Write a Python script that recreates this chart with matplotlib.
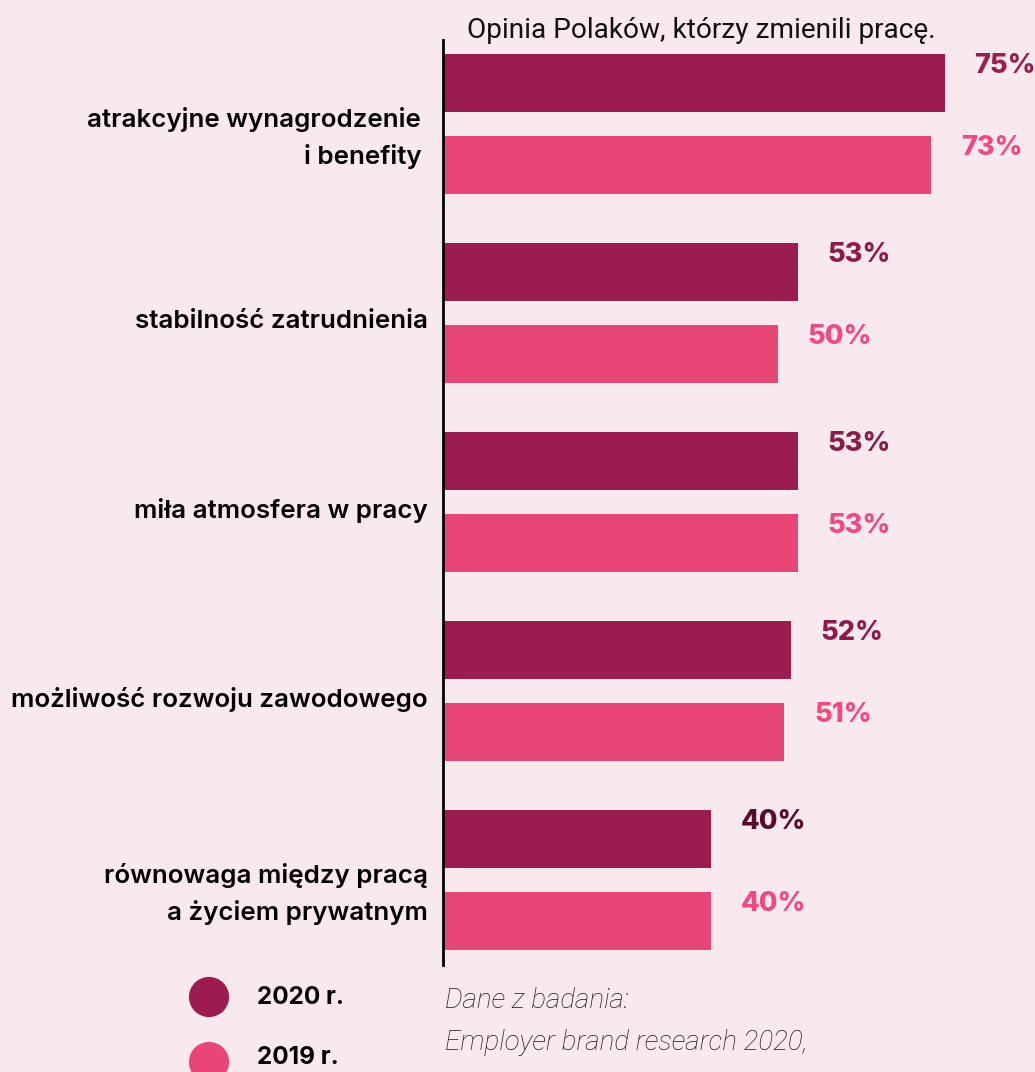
import numpy as np
import matplotlib.pyplot as plt

# data
categories = ['atrakcyjne wynagrodzenie \ni benefity ',
              'stabilność zatrudnienia',
              'miła atmosfera w pracy',
              'możliwość rozwoju zawodowego',
              'równowaga między pracą\na życiem prywatnym']
values_2020 = [75, 53, 53, 52, 40]
values_2019 = [73, 50, 53, 51, 40]
series_labels = ['2020 r.', '2019 r.']

bg = '#F8E9EE'
c2020 = '#9C1C50'
c2019 = '#E84676'
lab2020 = ['#9C1C50', '#8E1A4C', '#8E1A4C', '#8E1A4C', '#5A0A2C']
lab2019 = '#F04A80'

fig = plt.figure(figsize=(10.35, 10.72), dpi=100, facecolor=bg)

# main axes: axis line at x=443px, from y=40px to y=965px
W, H = 1035, 1072
ax = fig.add_axes([443 / W, (H - 965) / H, (W - 443) / W, 925 / H])
ax.set_facecolor('none')

y = np.arange(len(categories))
off = 82 / 189
bh = 58 / 189
ax.barh(y, values_2020, height=bh, color=c2020)
ax.barh(y + off, values_2019, height=bh, color=c2019)

ax.set_xlim(0, (W - 443) / 6.69)
ax.set_ylim(925 / 189 - 43 / 189, -43 / 189)

for i in range(len(categories)):
    ax.annotate(f'{values_2020[i]}%', (values_2020[i], y[i]), xytext=(21.5, 12),
                textcoords='offset points', va='center', ha='left',
                fontsize=19.5, fontweight='heavy', family='Inter', color=lab2020[i])
    ax.annotate(f'{values_2019[i]}%', (values_2019[i], y[i] + off), xytext=(21.5, 12),
                textcoords='offset points', va='center', ha='left',
                fontsize=19.5, fontweight='heavy', family='Inter', color=lab2019)

ax.set_yticks(y + off / 2 + 0.03)
ax.set_yticklabels(categories, fontsize=18.7, fontweight='semibold', family='Inter',
                   linespacing=1.6)
ax.tick_params(axis='y', length=0, pad=11)
ax.set_xticks([])
for s in ['top', 'right', 'bottom']:
    ax.spines[s].set_visible(False)
ax.spines['left'].set_linewidth(2)
ax.spines['left'].set_color('black')

# overlay in pixel coordinates for title, legend and source note
ov = fig.add_axes([0, 0, 1, 1])
ov.set_xlim(0, W)
ov.set_ylim(H, 0)
ov.axis('off')

ov.text(467, 30, 'Opinia Polaków, którzy zmienili pracę.', fontsize=20.2,
        family='Roboto', va='center', ha='left', color='#111111')

ov.scatter([209, 209], [997, 1062], s=780, color=[c2020, c2019], clip_on=False)
ov.text(257, 998, series_labels[0], fontsize=17.5, fontweight='bold', family='Inter',
        va='center', ha='left')
ov.text(257, 1058, series_labels[1], fontsize=17.5, fontweight='bold', family='Inter',
        va='center', ha='left')

ov.text(445, 1000, 'Dane z badania:', fontsize=20, style='italic', fontweight='light',
        family='Roboto', va='center', ha='left', color='#1a1a1a')
ov.text(445, 1043, 'Employer brand research 2020,', fontsize=20, style='italic',
        fontweight='light', family='Roboto', va='center', ha='left', color='#1a1a1a')

fig.savefig('out.png', dpi=100, facecolor=bg)
